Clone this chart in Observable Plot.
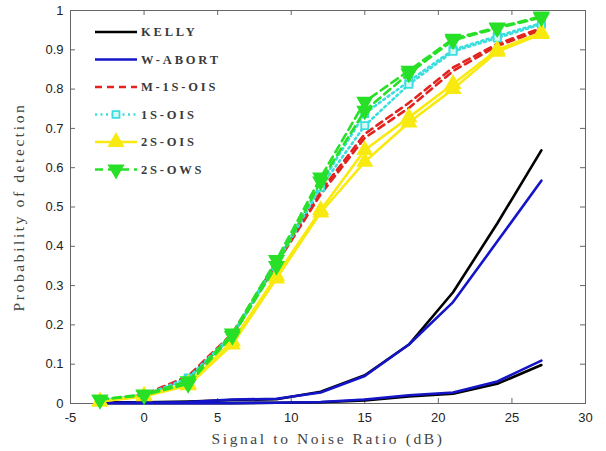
<!DOCTYPE html>
<html>
<head>
<meta charset="utf-8">
<script src="https://cdn.jsdelivr.net/npm/d3@7"></script>
<script src="https://cdn.jsdelivr.net/npm/@observablehq/plot@0.6"></script>
<style>
  html, body { margin: 0; padding: 0; background: #fff; }
  #wrap { position: relative; width: 606px; height: 451px; }
  #wrap svg.main { display: block; }
  #legend { position: absolute; left: 0; top: 0; }
</style>
</head>
<body>
<div id="wrap"></div>
<script>
// ---- data ----
const snr = [-3, 0, 3, 6, 9, 12, 15, 18, 21, 24, 27];
const methods = ["KELLY", "W-ABORT", "M-1S-OIS", "1S-OIS", "2S-OIS", "2S-OWS"];
const xTicks = [-5, 0, 5, 10, 15, 20, 25, 30];
const yTicks = [0, 0.1, 0.2, 0.3, 0.4, 0.5, 0.6, 0.7, 0.8, 0.9, 1];

const kellyA   = [0.003, 0.003, 0.005, 0.009, 0.011, 0.030, 0.072, 0.150, 0.283, 0.458, 0.644];
const kellyB   = [0.001, 0.001, 0.001, 0.001, 0.002, 0.003, 0.008, 0.018, 0.025, 0.050, 0.098];
const wabortA  = [0.002, 0.002, 0.004, 0.010, 0.012, 0.028, 0.070, 0.150, 0.258, 0.412, 0.567];
const wabortB  = [0.001, 0.001, 0.001, 0.001, 0.002, 0.004, 0.010, 0.021, 0.028, 0.056, 0.109];
const m1sA     = [0.005, 0.022, 0.070, 0.178, 0.360, 0.540, 0.686, 0.765, 0.855, 0.915, 0.955];
const m1sB     = [0.005, 0.020, 0.066, 0.172, 0.355, 0.532, 0.676, 0.752, 0.846, 0.910, 0.950];
const ois1A    = [0.007, 0.021, 0.065, 0.176, 0.362, 0.558, 0.738, 0.820, 0.900, 0.935, 0.968];
const ois1B    = [0.007, 0.020, 0.062, 0.171, 0.355, 0.550, 0.707, 0.812, 0.896, 0.930, 0.965];
const ois2A    = [0.005, 0.020, 0.050, 0.158, 0.325, 0.492, 0.645, 0.728, 0.813, 0.900, 0.944];
const ois2B    = [0.005, 0.018, 0.046, 0.150, 0.318, 0.486, 0.615, 0.715, 0.800, 0.895, 0.940];
const ows2A    = [0.010, 0.023, 0.057, 0.178, 0.365, 0.575, 0.768, 0.847, 0.928, 0.957, 0.985];
const ows2B    = [0.010, 0.021, 0.050, 0.172, 0.350, 0.565, 0.745, 0.840, 0.924, 0.955, 0.982];

const series = [
  {method: "KELLY", run: "A", values: kellyA},
  {method: "KELLY", run: "B", values: kellyB},
  {method: "W-ABORT", run: "A", values: wabortA},
  {method: "W-ABORT", run: "B", values: wabortB},
  {method: "M-1S-OIS", run: "A", values: m1sA},
  {method: "M-1S-OIS", run: "B", values: m1sB},
  {method: "1S-OIS", run: "A", values: ois1A},
  {method: "1S-OIS", run: "B", values: ois1B},
  {method: "2S-OIS", run: "A", values: ois2A},
  {method: "2S-OIS", run: "B", values: ois2B},
  {method: "2S-OWS", run: "A", values: ows2A},
  {method: "2S-OWS", run: "B", values: ows2B}
];

// ---- styles ----
const style = {
  "KELLY":    {stroke: "#000000", dash: null,  symbol: null},
  "W-ABORT":  {stroke: "#1414c8", dash: null,  symbol: null},
  "M-1S-OIS": {stroke: "#e2231f", dash: "7,5", symbol: null},
  "1S-OIS":   {stroke: "#3adede", dash: "2,3.5", symbol: "square", fill: "#d8f8f8", r: 4, rotate: 0},
  "2S-OIS":   {stroke: "#f8ea10", dash: null,  symbol: "triangle", fill: "#f8ea10", r: 5.2, rotate: 0},
  "2S-OWS":   {stroke: "#27e027", dash: "8,5", symbol: "triangle", fill: "#27e027", r: 5.2, rotate: 180}
};

const rows = [];
for (const s of series) s.values.forEach((v, i) => rows.push({snr: snr[i], p: v, method: s.method, key: s.method + s.run}));

const marks = [
  Plot.frame({stroke: "#666", strokeWidth: 1}),
  // inward ticks on all four sides
  Plot.tickX(xTicks, {x: d => d, insetTop: 388, stroke: "#666"}),
  Plot.tickX(xTicks, {x: d => d, insetBottom: 388, stroke: "#666"}),
  Plot.tickY(yTicks, {y: d => d, insetRight: 510, stroke: "#666"}),
  Plot.tickY(yTicks, {y: d => d, insetLeft: 510, stroke: "#666"}),
  Plot.axisX(xTicks, {tickSize: 0, tickPadding: 9, fontSize: 13, fontFamily: "Liberation Sans, Arial, sans-serif", fill: "#222",
    tickFormat: d => String(d), label: "Signal to Noise Ratio (dB)", labelAnchor: "center", labelArrow: "none", labelOffset: 40}),
  Plot.axisY(yTicks, {tickSize: 0, tickPadding: 7, fontSize: 13, fontFamily: "Liberation Sans, Arial, sans-serif", fill: "#222",
    tickFormat: d => String(d), label: "Probability of detection", labelAnchor: "center", labelArrow: "none", labelOffset: 58})
];

for (const m of methods) {
  const st = style[m];
  const data = rows.filter(r => r.method === m);
  marks.push(Plot.line(data, {x: "snr", y: "p", z: "key", stroke: st.stroke, strokeWidth: 2.6,
    strokeDasharray: st.dash, strokeLinejoin: "round"}));
  if (st.symbol) {
    marks.push(Plot.dot(data, {x: "snr", y: "p", symbol: st.symbol, r: st.r, rotate: st.rotate,
      stroke: st.stroke, fill: st.fill, strokeWidth: 1.8}));
  }
}

const chart = Plot.plot({
  width: 606,
  height: 451,
  marginLeft: 70,
  marginRight: 21,
  marginTop: 10,
  marginBottom: 48,
  x: {domain: [-5, 30]},
  y: {domain: [0, 1]},
  style: {background: "#fff", overflow: "visible"},
  marks
});
chart.classList.add("main");
document.getElementById("wrap").appendChild(chart);

// axis label typography
d3.select(chart).selectAll('[aria-label="x-axis label"] text, [aria-label="y-axis label"] text')
  .attr("font-family", "Liberation Serif, DejaVu Serif, serif")
  .attr("font-size", 15.5)
  .attr("fill", "#444")
  .style("letter-spacing", "2.6px");

// ---- legend overlay (inside plot, top-left) ----
const legRowY = 32, legStep = 27.5, lx0 = 95, lx1 = 137, ltx = 141;
const leg = d3.select("#wrap").append("svg").attr("id", "legend").attr("width", 606).attr("height", 451);
methods.forEach((m, i) => {
  const st = style[m];
  const y = legRowY + i * legStep;
  const g = leg.append("g").attr("transform", `translate(0,${y})`);
  g.append("line").attr("x1", lx0).attr("x2", lx1).attr("y1", 0).attr("y2", 0)
    .attr("stroke", st.stroke).attr("stroke-width", 2.6)
    .attr("stroke-dasharray", st.dash);
  if (st.symbol) {
    const sym = st.symbol === "square" ? d3.symbolSquare : d3.symbolTriangle;
    const size = st.symbol === "square" ? (st.r * 2) ** 2 * 0.75 : st.r * st.r * 3.2;
    g.append("path").attr("d", d3.symbol(sym, size)())
      .attr("transform", `translate(${(lx0 + lx1) / 2},0) rotate(${st.rotate})`)
      .attr("fill", st.fill).attr("stroke", st.stroke).attr("stroke-width", 1.8);
  }
  g.append("text").attr("x", ltx).attr("y", 0).attr("dy", "0.35em")
    .attr("font-family", "Liberation Serif, DejaVu Serif, serif")
    .attr("font-size", 12.5).attr("font-weight", "bold").attr("fill", "#3a3a3a")
    .style("letter-spacing", "2.8px")
    .text(m);
});
</script>
</body>
</html>
